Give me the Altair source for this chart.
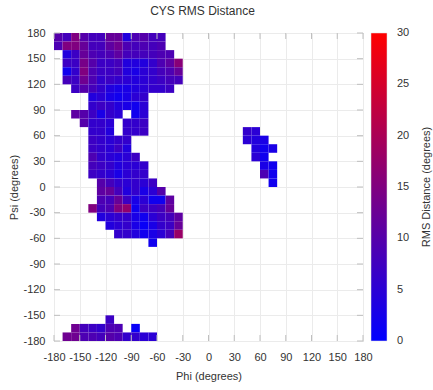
import altair as alt
import pandas as pd

# RMS distance (degrees) of CYS residues in 10-degree phi/psi bins.
# Each row is one psi bin (lower edge) given as (first phi bin, values eastward);
# None marks an empty bin inside a row.
psi_170 = (-180, [10, 8, 15, 10, 8, 8, 12, 12, 4, 9, 10, 8, 8])
psi_160 = (-180, [9, 15, 15, 12, 8, 8, 11, 13, 9, 8, 9, 8, 9])
psi_150 = (-170, [4, 7, 12, 9, 8, 9, 11, 8, 8, 8, 8, 9, 9])
psi_140 = (-170, [7, 7, 14, 10, 7, 7, 8, 4, 4, 4, 6, 9, 11, 16])
psi_130 = (-170, [2, 6, 15, 9, 7, 7, 8, 4, 3, 5, 6, 8, 9, 12])
psi_120 = (-170, [8, 7, 13, 9, 6, 7, 6, 5, 4, 5, 6, 7, 8, 8])
psi_110 = (-160, [7, 10, 8, 6, 4, 3, 3, 4, 5, 6, 6, 7])
psi_100 = (-140, [4, 5, 3, 2, 3, 5, 6])
psi_090 = (-140, [6, 7, 6, 4, 3, 2, 5])
psi_080 = (-160, [11, 10, 7, 3, 6, 5, None, 2, 5])
psi_070 = (-150, [10, 6, 6, 5, None, 6, 6, 7])
psi_060 = (-140, [6, 6, 4, None, 6, 6, 7])
psi_050 = (-140, [7, 6, 5, 6, 6])
psi_040 = (-140, [7, 6, 5, 7, 4])
psi_030 = (-140, [9, 6, 5, 4, 5, 7])
psi_020 = (-140, [8, 7, 6, 4, 5, 5, 6])
psi_010 = (-140, [7, 6, 5, 3, 5, 6, 6])
psi_000 = (-130, [10, 8, 6, 5, 6, 5, 7])
psi_m010 = (-130, [11, 12, 8, 4, 6, 3, 5, 10])
psi_m020 = (-130, [9, 8, 12, 7, 3, 5, 2, 2, 11])
psi_m030 = (-140, [15, 8, 9, 15, 17, 2, 7, 7, 8, 12])
psi_m040 = (-130, [4, 5, 6, 6, 3, 2, 5, 7, 8, 11])
psi_m050 = (-120, [4, 5, 6, 3, 1, 3, 6, 7, 12])
psi_m060 = (-110, [6, 6, 4, 2, 3, 5, 8, 18])
psi_m070 = (-70, [2])
psi_m160 = (-120, [7])
psi_m170 = (-160, [13, 8, 7, 6, 9, 9, None, 1])
psi_m180 = (-170, [13, 13, 9, 9, 8, 10, 9, 6, 6, 5, 5])

# Left-handed helix island
island_060 = (40, [6, 5])
island_050 = (40, [5, 4, 3])
island_040 = (50, [4, 2, 3])
island_030 = (50, [5, 2])
island_020 = (60, [3, 2])
island_010 = (60, [9, 2])
island_000 = (70, [2])

rows = [
    (170, psi_170), (160, psi_160), (150, psi_150), (140, psi_140),
    (130, psi_130), (120, psi_120), (110, psi_110), (100, psi_100),
    (90, psi_090), (80, psi_080), (70, psi_070), (60, psi_060),
    (50, psi_050), (40, psi_040), (30, psi_030), (20, psi_020),
    (10, psi_010), (0, psi_000), (-10, psi_m010), (-20, psi_m020),
    (-30, psi_m030), (-40, psi_m040), (-50, psi_m050), (-60, psi_m060),
    (-70, psi_m070), (-160, psi_m160), (-170, psi_m170), (-180, psi_m180),
    (60, island_060), (50, island_050), (40, island_040), (30, island_030),
    (20, island_020), (10, island_010), (0, island_000),
]

BIN = 10
axis_ticks = list(range(-180, 181, 30))
legend_ticks = [0, 5, 10, 15, 20, 25, 30]
legend_title = "RMS Distance (degrees)"

records = []
for psi, (phi0, values) in rows:
    for k, v in enumerate(values):
        if v is None:
            continue
        phi = phi0 + k * BIN
        records.append({"phi": phi, "phi2": phi + BIN,
                        "psi": psi, "psi2": psi + BIN, "rms": v})
cells = pd.DataFrame(records)

ticks = pd.DataFrame({"v": axis_ticks})
ticks["lo"] = -180
ticks["lo_in"] = -173
ticks["hi"] = 180
ticks["hi_in"] = 173

bar_labels = pd.DataFrame({"rms": legend_ticks,
                           "txt": [str(t) for t in legend_ticks]})

FONT = "Liberation Sans"
TEXT = "#333333"
FRAME = "#bfbfbf"
GRID = "#ebebeb"

xscale = alt.Scale(domain=[-180, 180], nice=False, zero=False)
yscale = alt.Scale(domain=[-180, 180], nice=False, zero=False)
cscale = alt.Scale(domain=[0, 30], range=["#0000ff", "#ff0000"], interpolate="rgb")

axis_common = dict(values=axis_ticks, grid=True, gridColor=GRID, ticks=False,
                   domain=False, labelFlush=False, labelOverlap=False,
                   labelExpr="toString(datum.value)")

# one shared x-axis definition, reused by every layer that encodes x
x_axis = alt.Axis(title="Phi (degrees)", labelPadding=10, titlePadding=8,
                  **axis_common)
y_axis = alt.Axis(title="Psi (degrees)", labelPadding=9, titlePadding=3,
                  **axis_common)

heat = alt.Chart(cells).mark_rect().encode(
    x=alt.X("phi:Q", scale=xscale, axis=x_axis),
    x2="phi2:Q",
    y=alt.Y("psi:Q", scale=yscale, axis=y_axis),
    y2="psi2:Q",
    color=alt.Color(
        "rms:Q", scale=cscale,
        legend=alt.Legend(title=None, type="gradient", orient="right",
                          direction="vertical",
                          gradientLength=308, gradientThickness=16, offset=8,
                          padding=0, values=legend_ticks, labelExpr="''",
                          gradientStrokeColor="#dddddd",
                          gradientStrokeWidth=0.5),
    ),
)

# colour bar tick labels, placed on the bar's own 0-30 scale
bar_scale = alt.Scale(domain=[0, 30], nice=False, zero=False)
bar_text = alt.Chart(bar_labels).mark_text(
    font=FONT, fontSize=11, color=TEXT, align="left", baseline="middle",
).encode(
    y=alt.Y("rms:Q", scale=bar_scale, axis=None),
    x=alt.value(343),
    text="txt:N",
)

# colour bar title, reading upwards to the right of the bar labels
bar_title = alt.Chart(pd.DataFrame({"t": [legend_title]})).mark_text(
    angle=270, font=FONT, fontSize=11, color=TEXT, align="center",
    baseline="middle",
).encode(text="t:N", x=alt.value(373), y=alt.value(154))

# inward tick marks on all four sides of the frame
left_ticks = alt.Chart(ticks).mark_rule(color=FRAME).encode(
    y=alt.Y("v:Q", scale=yscale, axis=None),
    x=alt.X("lo:Q", scale=xscale, axis=x_axis), x2="lo_in:Q")
right_ticks = alt.Chart(ticks).mark_rule(color=FRAME).encode(
    y=alt.Y("v:Q", scale=yscale, axis=None),
    x=alt.X("hi:Q", scale=xscale, axis=x_axis), x2="hi_in:Q")
bottom_ticks = alt.Chart(ticks).mark_rule(color=FRAME).encode(
    x=alt.X("v:Q", scale=xscale, axis=x_axis),
    y=alt.Y("lo:Q", scale=yscale, axis=None), y2="lo_in:Q")
top_ticks = alt.Chart(ticks).mark_rule(color=FRAME).encode(
    x=alt.X("v:Q", scale=xscale, axis=x_axis),
    y=alt.Y("hi:Q", scale=yscale, axis=None), y2="hi_in:Q")

chart = alt.layer(
    heat, left_ticks, right_ticks, bottom_ticks, top_ticks, bar_title, bar_text
).resolve_scale(
    y="independent"
).properties(
    width=309,
    height=308,
    autosize="none",
    padding={"left": 54, "top": 33, "right": 70, "bottom": 49},
    title=alt.Title("CYS RMS Distance", fontSize=12, fontWeight="normal",
                    color=TEXT, font=FONT, anchor="middle", offset=9, dx=-6),
).configure_view(
    stroke=FRAME, strokeWidth=1
).configure_axis(
    labelFont=FONT, labelFontSize=11, labelColor=TEXT, labelOverlap=False,
    titleFont=FONT, titleFontSize=11, titleFontWeight="normal", titleColor=TEXT,
)

chart.save("out.html", embed_options={"renderer": "svg", "actions": False})
